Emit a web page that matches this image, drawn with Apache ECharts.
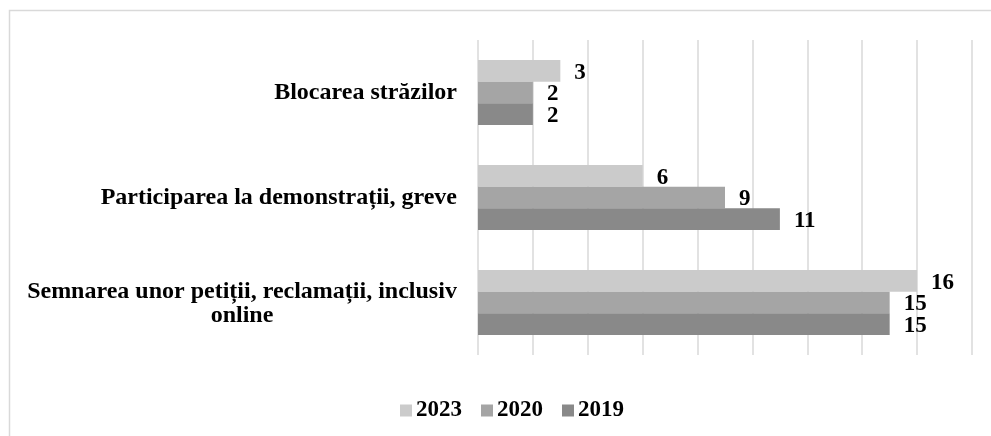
<!DOCTYPE html>
<html>
<head>
<meta charset="utf-8">
<script src="https://cdn.jsdelivr.net/npm/echarts@6/dist/echarts.min.js"></script>
<style>
html,body{margin:0;padding:0;background:#fff;}
#c{width:991px;height:436px;}
</style>
</head>
<body>
<div id="c"></div>
<script>
const categories = ["Blocarea străzilor", "Participarea la demonstrații, greve", "Semnarea unor petiții, reclamații, inclusiv\nonline"];
const seriesNames = ["2023", "2020", "2019"];
const values2023 = [3, 6, 16];
const values2020 = [2, 9, 15];
const values2019 = [2, 11, 15];
const colors = ["#cbcbcb", "#a5a5a5", "#898989"];

const FONT = '"Liberation Serif", "Times New Roman", serif';
const FS_CAT = 24;
const FS_LAB = 23;
const FS_LEG = 23;

const ctx = document.createElement('canvas').getContext('2d');
ctx.font = 'bold ' + FS_CAT + 'px ' + FONT;

function fmt(v) {
  if (v.indexOf('\n') < 0) return v;
  return v.split('\n').map(l => '{c|' + l + '}').join('\n');
}
const longest = Math.ceil(Math.max(...categories.filter(c => c.indexOf('\n') >= 0).flatMap(c => c.split('\n')).map(l => ctx.measureText(l).width)));

const chart = echarts.init(document.getElementById('c'));
const dataSets = [values2023, values2020, values2019];
chart.setOption({
  animation: false,
  backgroundColor: '#fff',
  graphic: [{
    type: 'rect',
    shape: {x: 9.5, y: 10.5, width: 1100, height: 600},
    style: {fill: 'none', stroke: '#d9d9d9', lineWidth: 1.5},
    silent: true
  }],
  grid: {left: 478, right: 19, top: 40, bottom: 81, containLabel: false},
  xAxis: {
    type: 'value', min: 0, max: 18, interval: 2,
    axisLabel: {show: false}, axisLine: {show: false}, axisTick: {show: false},
    splitLine: {show: true, lineStyle: {color: '#d9d9d9', width: 1.5}}
  },
  yAxis: {
    type: 'category', data: categories, inverse: true,
    axisLine: {show: false}, axisTick: {show: false},
    axisLabel: {
      margin: 21, color: '#000', fontFamily: FONT, fontWeight: 'bold', fontSize: FS_CAT,
      lineHeight: 24,
      formatter: fmt,
      rich: {c: {width: longest, align: 'center', color: '#000', fontFamily: FONT, fontWeight: 'bold', fontSize: FS_CAT, lineHeight: 24, padding: [3, 0, 0, 0]}}
    }
  },
  legend: {
    data: seriesNames, left: 395, top: 394, itemWidth: 12, itemHeight: 12, itemGap: 19,
    icon: 'rect',
    textStyle: {color: '#000', fontFamily: FONT, fontWeight: 'bold', fontSize: FS_LEG, padding: [0, 0, 0, -1]}
  },
  series: seriesNames.map((n, i) => ({
    name: n, type: 'bar', data: dataSets[i],
    barGap: '0%', barCategoryGap: '38%',
    itemStyle: {color: colors[i]},
    label: {show: true, position: 'right', distance: 14, offset: [0, 2], color: '#000', fontFamily: FONT, fontWeight: 'bold', fontSize: FS_LAB}
  }))
});
</script>
</body>
</html>
